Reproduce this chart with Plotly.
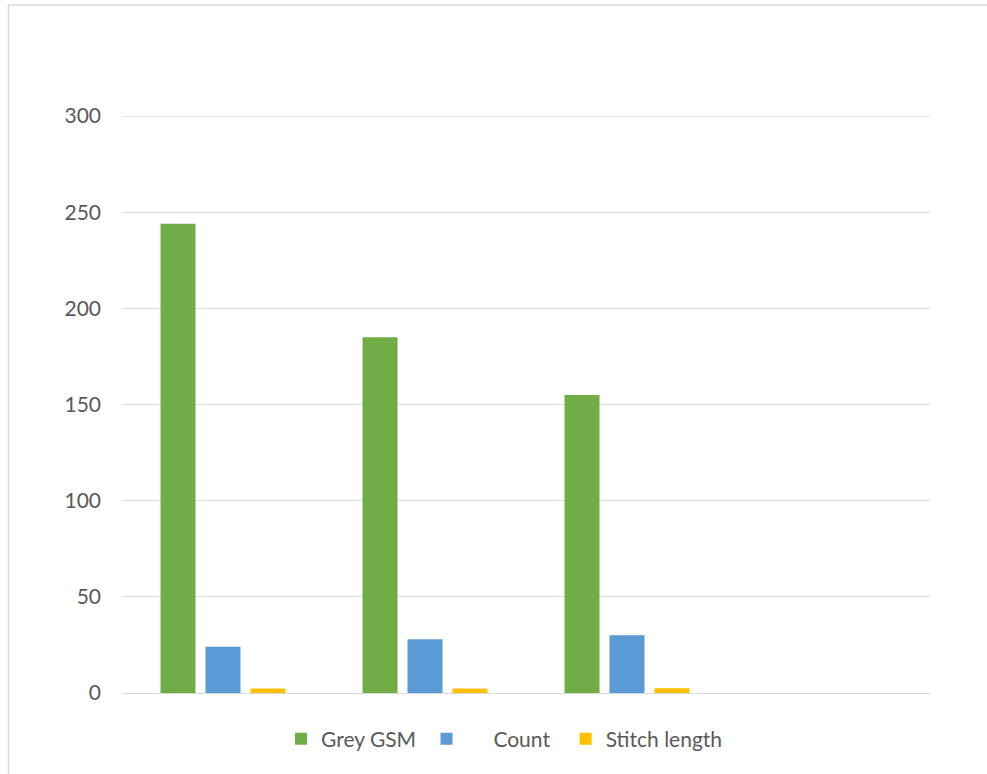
import plotly.graph_objects as go

categories = ["1", "2", "3", "4"]
grey_gsm = [244, 185, 155, None]
count = [24, 28, 30, None]
stitch_length = [2.4, 2.4, 2.5, None]
y_ticks = [0, 50, 100, 150, 200, 250, 300]

FONT = "Lato"
TXT = "#595959"
GRID = "#D9D9D9"
NB = "\u00a0"

fig = go.Figure()
fig.add_bar(x=categories, y=grey_gsm, name="Grey GSM" + NB, marker_color="#70AD47", marker_line_width=0)
fig.add_bar(x=categories, y=count, name=NB * 5 + "Count" + NB * 2, marker_color="#5B9BD5", marker_line_width=0)
fig.add_bar(x=categories, y=stitch_length, name="Stitch length", marker_color="#FFC000", marker_line_width=0)

L, R, T, B = 122, 57, 116, 81
W, H = 987, 774
pw, ph = W - L - R, H - T - B

def px_x(p):
    return (p - L) / pw

def px_y(p):
    return (H - B - p) / ph

fig.add_shape(type="rect", xref="paper", yref="paper",
              x0=px_x(8.5), x1=px_x(1010), y0=px_y(5), y1=px_y(790),
              line=dict(color=GRID, width=1.5), fillcolor="rgba(0,0,0,0)", layer="below")
fig.add_shape(type="line", xref="paper", yref="y", x0=0, x1=1, y0=y_ticks[-1], y1=y_ticks[-1],
              line=dict(color=GRID, width=1.3), layer="below")

fig.update_layout(
    width=W, height=H,
    margin=dict(l=L, r=R, t=T, b=B, pad=0),
    paper_bgcolor="white", plot_bgcolor="white",
    barmode="group", bargap=0.332, bargroupgap=0.222,
    font=dict(family=FONT, size=21, color=TXT),
    showlegend=True,
    legend=dict(orientation="h", x=px_x(281), xanchor="left", y=px_y(739), yanchor="middle",
                font=dict(family=FONT, size=21, color=TXT), itemsizing="constant",
                traceorder="normal", bgcolor="rgba(0,0,0,0)"),
    xaxis=dict(type="category", range=[-0.5, 3.5], showticklabels=False, showgrid=False,
               zeroline=False, showline=False, ticks=""),
    yaxis=dict(range=[0, 300], tickvals=y_ticks, ticktext=[str(v) for v in y_ticks],
               showgrid=True, gridcolor=GRID, gridwidth=1.3, zeroline=True,
               zerolinecolor=GRID, zerolinewidth=1.3, showline=False, ticks="",
               ticklabelstandoff=20, tickfont=dict(family=FONT, size=21, color=TXT)),
)

fig.write_html("out.html")
